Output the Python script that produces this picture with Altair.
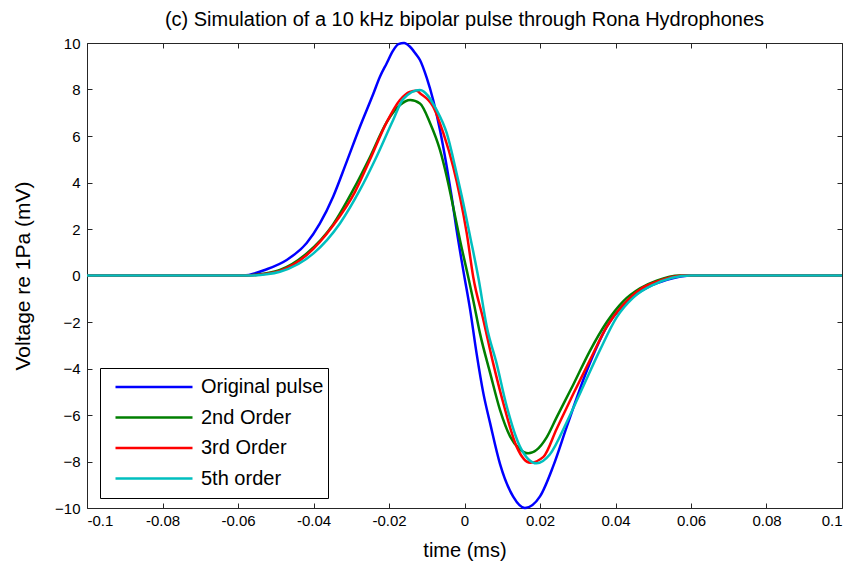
import altair as alt
import pandas as pd

series_names = ["Original pulse", "2nd Order", "3rd Order", "5th order"]
series_colors = ["#0000ff", "#007f00", "#ff0000", "#00bfbf"]

orig_t = [-0.1, -0.06, -0.0586, -0.0524, -0.0471, -0.0418, -0.0383, -0.0348, -0.0312, -0.0277,
          -0.0241, -0.0224, -0.0206, -0.019, -0.0175, -0.016, -0.0145, -0.013, -0.0118, -0.01,
          -0.0083, -0.0065, -0.0047, -0.0034, -0.0021, -0.0003, 0.0015, 0.0032, 0.005, 0.0068,
          0.0094, 0.0129, 0.016, 0.02, 0.0235, 0.0271, 0.0324, 0.0377, 0.0447, 0.0536,
          0.0606, 0.1]
orig_v = [0, 0, 0, 0.27, 0.67, 1.4, 2.24, 3.39, 4.9, 6.4,
          7.84, 8.55, 9.13, 9.65, 9.95, 10.0, 9.85, 9.55, 9.27, 8.5,
          7.55, 6.26, 4.68, 3.39, 1.96, 0.2, -1.48, -3.35, -5.07, -6.36,
          -8.1, -9.51, -10.0, -9.5, -8.2, -6.5, -4.1, -2.2, -0.91, -0.19,
          0, 0]

o2_t = [-0.1, -0.058, -0.0524, -0.0489, -0.0418, -0.0348, -0.0295, -0.025, -0.0206, -0.0171,
        -0.0144, -0.0118, -0.0091, -0.0065, -0.0047, -0.003, -0.0012, 0.0009, 0.0023, 0.0041,
        0.0068, 0.0094, 0.0121, 0.0145, 0.0169, 0.0191, 0.0218, 0.0244, 0.0288, 0.0332,
        0.0377, 0.0421, 0.0465, 0.0509, 0.057, 0.1]
o2_v = [0, 0, 0.1, 0.24, 0.95, 2.2, 3.68, 5.11, 6.6, 7.33,
        7.55, 7.4, 6.55, 5.4, 4.25, 2.96, 1.53, 0.0, -1.05, -2.49,
        -4.2, -5.78, -6.93, -7.45, -7.65, -7.5, -6.95, -6.1, -4.7, -3.25,
        -2.0, -1.1, -0.55, -0.22, 0, 0]

o3_t = [-0.1, -0.058, -0.0524, -0.0489, -0.0418, -0.0348, -0.029, -0.025, -0.0206, -0.0171,
        -0.0145, -0.0127, -0.0118, -0.0083, -0.0056, -0.003, -0.0012, 0.0006, 0.0023, 0.005,
        0.0076, 0.0103, 0.0138, 0.0174, 0.0209, 0.0244, 0.0288, 0.0332, 0.0377, 0.0421,
        0.0465, 0.0509, 0.058, 0.1]
o3_v = [0, 0, 0.08, 0.2, 0.88, 2.15, 3.6, 5.0, 6.6, 7.55,
        7.9, 7.95, 7.84, 7.26, 6.12, 4.68, 3.39, 1.81, -0.05, -1.91,
        -3.78, -5.5, -7.36, -8.05, -7.8, -6.6, -5.1, -3.65, -2.2, -1.25,
        -0.6, -0.27, 0, 0]

o5_t = [-0.1, -0.057, -0.0524, -0.0489, -0.04, -0.033, -0.0277, -0.0233, -0.0189, -0.0162,
        -0.0118, -0.0074, -0.0047, -0.0021, -0.0003, 0.0015, 0.0037, 0.0059, 0.0085, 0.0112,
        0.0147, 0.0191, 0.0226, 0.0271, 0.0315, 0.0359, 0.0403, 0.0447, 0.05, 0.06, 0.1]
o5_v = [0, 0, 0.05, 0.16, 0.95, 2.24, 3.68, 5.11, 6.69, 7.6,
        7.98, 7.12, 6.12, 4.4, 3.1, 1.67, -0.12, -2.2, -3.78, -5.64,
        -7.36, -8.08, -7.7, -6.3, -4.75, -3.2, -1.8, -0.95, -0.4, 0, 0]

x_ticks = [-0.1, -0.08, -0.06, -0.04, -0.02, 0, 0.02, 0.04, 0.06, 0.08, 0.1]
y_ticks = [-10, -8, -6, -4, -2, 0, 2, 4, 6, 8, 10]

frames = []
for name, t, v in [(series_names[0], orig_t, orig_v), (series_names[1], o2_t, o2_v),
                   (series_names[2], o3_t, o3_v), (series_names[3], o5_t, o5_v)]:
    frames.append(pd.DataFrame({"time": t, "volt": v, "series": name, "idx": range(len(t))}))
df = pd.concat(frames, ignore_index=True)

W, H = 755, 465
FONT = "Liberation Sans"
xs = alt.Scale(domain=[-0.1, 0.1], nice=False, zero=False)
ys = alt.Scale(domain=[-10, 10], nice=False, zero=False)

base = alt.Chart(df)

lines = base.mark_line(strokeWidth=2.5, interpolate="monotone").encode(
    x=alt.X("time:Q", scale=xs, axis=alt.Axis(
        orient="bottom", values=x_ticks, labelExpr="'' + datum.value", title="time (ms)",
        ticks=False, domain=False, labelPadding=5, titlePadding=12, grid=False,
        labelFontSize=15, titleFontSize=20)),
    y=alt.Y("volt:Q", scale=ys, axis=alt.Axis(
        orient="left", values=y_ticks, title="Voltage re 1Pa (mV)", ticks=False, domain=False,
        labelPadding=7, titlePadding=21, grid=False,
        labelFontSize=15, titleFontSize=21)),
    color=alt.Color("series:N", scale=alt.Scale(domain=series_names, range=series_colors),
                    legend=alt.Legend(title=None, orient="none", legendX=13, legendY=325,
                                      symbolType="stroke", symbolSize=5929, symbolStrokeWidth=2.5,
                                      symbolOffset=10, clipHeight=30, rowPadding=0.5,
                                      labelFontSize=20, labelFont=FONT, labelColor="black",
                                      labelExpr="datum.label + '\u00a0\u00a0\u00a0\u00a0'",
                                      fillColor="white", strokeColor="black", padding=4,
                                      labelOffset=7)),
    detail="series:N",
    order="idx:Q",
)

ticks_a = base.mark_point(opacity=0).encode(
    x=alt.X("time:Q", scale=xs, axis=alt.Axis(orient="top", offset=-H, values=x_ticks, labels=False,
                                                title=None, domain=False, ticks=True, tickSize=5, grid=False)),
    y=alt.Y("volt:Q", scale=ys, axis=alt.Axis(orient="right", offset=-W, values=y_ticks, labels=False,
                                               title=None, domain=False, ticks=True, tickSize=5, grid=False)),
)
ticks_b = base.mark_point(opacity=0).encode(
    x=alt.X("time:Q", scale=xs, axis=alt.Axis(orient="bottom", offset=-H, values=x_ticks, labels=False,
                                                title=None, domain=False, ticks=True, tickSize=5, grid=False)),
    y=alt.Y("volt:Q", scale=ys, axis=alt.Axis(orient="left", offset=-W, values=y_ticks, labels=False,
                                               title=None, domain=False, ticks=True, tickSize=5, grid=False)),
)

chart = alt.layer(lines, ticks_a, ticks_b).resolve_axis(x="independent", y="independent").properties(
    width=W, height=H,
    autosize="none",
    background="white",
    padding={"left": 79, "top": 35, "right": 11, "bottom": 55},
    title=alt.TitleParams("(c) Simulation of a 10 kHz bipolar pulse through Rona Hydrophones",
                          fontSize=20, fontWeight="normal", font=FONT, color="black",
                          anchor="middle", offset=6),
).configure_view(stroke="#262626", strokeWidth=1).configure_axis(
    labelFont=FONT, labelColor="black", titleFont=FONT,
    titleFontWeight="normal", titleColor="black", tickColor="#262626", tickWidth=1
)

chart.save("out.html", embed_options={"renderer": "svg", "actions": False})
